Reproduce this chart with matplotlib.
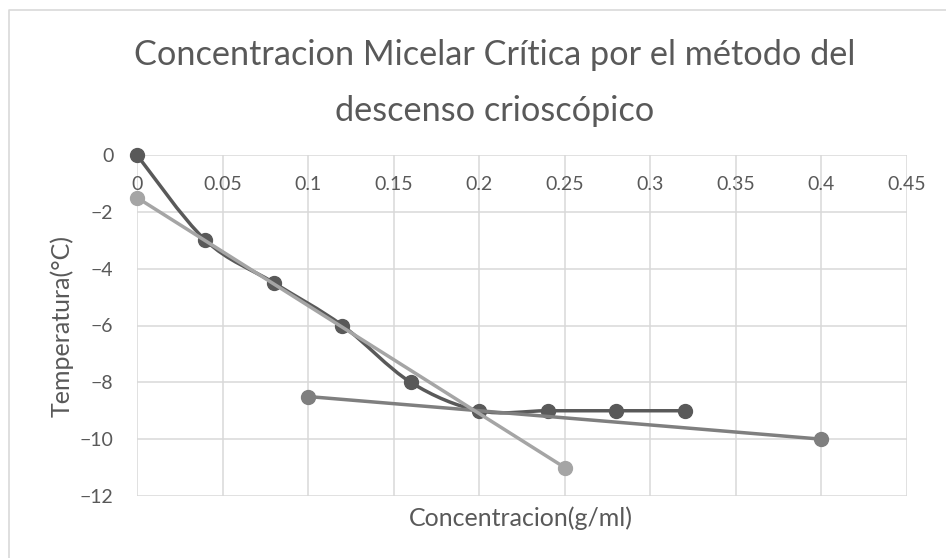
import numpy as np
import matplotlib
matplotlib.use("Agg")
import matplotlib.pyplot as plt
from matplotlib.path import Path
from matplotlib.patches import PathPatch
from matplotlib.lines import Line2D

# data
conc_exp = [0.0, 0.04, 0.08, 0.12, 0.16, 0.20, 0.24, 0.28, 0.32]
temp_exp = [0, -3, -4.5, -6, -8, -9, -9, -9, -9]

conc_fit1 = [0.0, 0.25]
temp_fit1 = [-1.5, -11]

conc_fit2 = [0.1, 0.4]
temp_fit2 = [-8.5, -10]

x_ticks = [0, 0.05, 0.1, 0.15, 0.2, 0.25, 0.3, 0.35, 0.4, 0.45]
x_tick_labels = ["0", "0.05", "0.1", "0.15", "0.2", "0.25", "0.3", "0.35", "0.4", "0.45"]
y_ticks = [0, -2, -4, -6, -8, -10, -12]

DARK = "#595959"
MID = "#7f7f7f"
LIGHT = "#a5a5a5"
GRID = "#d9d9d9"
TEXT = "#595959"
FONT = "Lato"

plt.rcParams["font.family"] = [FONT, "DejaVu Sans"]


def smooth_path(xs, ys):
    # excel-like smoothed line: catmull-rom segments as cubic beziers
    pts = np.column_stack([xs, ys]).astype(float)
    n = len(pts)
    verts = [pts[0]]
    codes = [Path.MOVETO]
    for i in range(n - 1):
        p0 = pts[i - 1] if i > 0 else pts[i]
        p1 = pts[i]
        p2 = pts[i + 1]
        p3 = pts[i + 2] if i + 2 < n else pts[i + 1]
        c1 = p1 + (p2 - p0) / 6.0
        c2 = p2 - (p3 - p1) / 6.0
        verts += [c1, c2, p2]
        codes += [Path.CURVE4] * 3
    return Path(verts, codes)


fig = plt.figure(figsize=(9.46, 5.58), dpi=100)
ax = fig.add_axes([137 / 946, 1 - 496 / 558, 770 / 946, 341 / 558])

ax.set_xlim(0, 0.45)
ax.set_ylim(-12, 0)
ax.set_xticks(x_ticks)
ax.set_xticklabels(x_tick_labels)
ax.set_yticks(y_ticks)
ax.grid(True, color=GRID, linewidth=1.1, zorder=0)
ax.set_axisbelow(True)
for s in ax.spines.values():
    s.set_visible(False)
ax.spines["bottom"].set_position(("data", 0))
ax.tick_params(axis="x", length=0, pad=15, labelsize=14, labelcolor=TEXT)
ax.tick_params(axis="y", length=0, pad=17, labelsize=14, labelcolor=TEXT)

# experimental series (smoothed)
ax.add_patch(PathPatch(smooth_path(conc_exp, temp_exp), facecolor="none",
                       edgecolor=DARK, linewidth=2.5, zorder=3, clip_on=False,
                       capstyle="round", joinstyle="round"))
ax.plot(conc_exp, temp_exp, linestyle="none", marker="o", markersize=10,
        color=DARK, zorder=4, clip_on=False)

# fitted lines
ax.plot(conc_fit2, temp_fit2, color=MID, linewidth=2.5, marker="o",
        markersize=10, zorder=5, clip_on=False, solid_capstyle="round")
ax.plot(conc_fit1, temp_fit1, color=LIGHT, linewidth=2.5, marker="o",
        markersize=10, zorder=6, clip_on=False, solid_capstyle="round")

# titles
fig.text(495 / 946, 1 - 55 / 558, "Concentracion Micelar Crítica por el método del",
         ha="center", va="center", fontsize=24.7, color=TEXT)
fig.text(495 / 946, 1 - 111 / 558, "descenso crioscópico",
         ha="center", va="center", fontsize=24.7, color=TEXT)
fig.text(521 / 946, 1 - 518 / 558, "Concentracion(g/ml)",
         ha="center", va="center", fontsize=18, color=TEXT)
fig.text(62 / 946, 1 - 326 / 558, "Temperatura(°C)", rotation=90,
         ha="center", va="center", fontsize=18, color=TEXT)

# chart area border (only left and top edges visible in the crop)
fig.add_artist(Line2D([9 / 946, 9 / 946, 1.0], [0.0, 1 - 10 / 558, 1 - 10 / 558],
                      transform=fig.transFigure, color=GRID, linewidth=1.2))

fig.savefig("out.png", dpi=100)
